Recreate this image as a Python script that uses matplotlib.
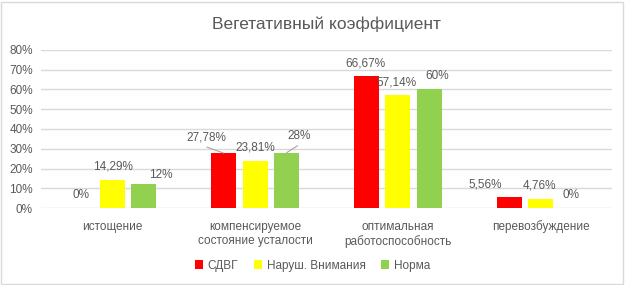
import matplotlib.pyplot as plt
import numpy as np
from matplotlib.patches import Rectangle

plt.rcParams['font.family'] = ['Liberation Sans', 'DejaVu Sans']

# data
categories = ['истощение', 'компенсируемое\nсостояние усталости',
              'оптимальная\nработоспособность', 'перевозбуждение']
series_names = ['СДВГ', 'Наруш. Внимания', 'Норма']
sdvg = [0, 27.78, 66.67, 5.56]
narush = [14.29, 23.81, 57.14, 4.76]
norma = [12, 28, 60, 0]
sdvg_labels = ['0%', '27,78%', '66,67%', '5,56%']
narush_labels = ['14,29%', '23,81%', '57,14%', '4,76%']
norma_labels = ['12%', '28%', '60%', '0%']
yticks = [0, 10, 20, 30, 40, 50, 60, 70, 80]

colors = ['#FF0000', '#FFFF00', '#92D050']
text_col = '#595959'
grid_col = '#D9D9D9'

# label offsets in pixels (dx, dy) from top centre of each bar
offsets = [
    [(0, 13), (-17, 16), (-1, 13), (-24, 13)],
    [(0, 13), (0, 13), (-1, 13), (-1, 13)],
    [(17, 9), (13, 17), (8, 13), (-1, 13)],
]

fig = plt.figure(figsize=(6.25, 2.85), dpi=100)
ax = fig.add_axes([0.066, 0.27, 0.913, 0.555])

x = np.arange(len(categories))
width = 0.175
step = 0.22
all_vals = [sdvg, narush, norma]
all_labels = [sdvg_labels, narush_labels, norma_labels]

for i, (vals, labs) in enumerate(zip(all_vals, all_labels)):
    xs = x + (i - 1) * step
    ax.bar(xs, vals, width, color=colors[i], label=series_names[i], zorder=3)
    for j in range(len(vals)):
        dx, dy = offsets[i][j]
        ax.annotate(labs[j], xy=(xs[j], vals[j]), xytext=(dx, dy),
                    textcoords='offset pixels', ha='center', va='center',
                    fontsize=8.5, color=text_col, zorder=4)

# leader lines for the two shifted labels
ax.annotate('', xy=(x[1] - step, sdvg[1]), xytext=(-17, 6),
            textcoords='offset pixels',
            arrowprops=dict(arrowstyle='-', color='#A6A6A6', lw=0.8,
                            shrinkA=0, shrinkB=0))
ax.annotate('', xy=(x[1] + step, norma[1]), xytext=(11, 7),
            textcoords='offset pixels',
            arrowprops=dict(arrowstyle='-', color='#A6A6A6', lw=0.8,
                            shrinkA=0, shrinkB=0))

ax.set_xlim(-0.5, 3.5)
ax.set_ylim(0, 80)
ax.set_yticks(yticks)
ax.set_yticklabels([f'{v}%' for v in yticks])
ax.set_xticks(x)
ax.set_xticklabels(categories, linespacing=1.3)
ax.tick_params(length=0, labelsize=8.5, colors=text_col)
ax.tick_params(axis='x', pad=9)
ax.tick_params(axis='y', pad=6)
ax.grid(axis='y', color=grid_col, lw=1, zorder=0)
for s in ax.spines.values():
    s.set_visible(False)

ax.set_title('Вегетативный коэффициент', fontsize=12.5, color=text_col, pad=15)

fig.legend(loc='center', bbox_to_anchor=(0.5, 0.068), ncol=3, frameon=False,
           fontsize=8.5, labelcolor=text_col, handlelength=0.7,
           handleheight=0.7, handletextpad=0.4, columnspacing=1.3)

fig.patches.append(Rectangle((0.002, 0.004), 0.995, 0.99, transform=fig.transFigure,
                             fill=False, edgecolor='#D9D9D9', lw=1))

fig.savefig('out.png', dpi=100)
